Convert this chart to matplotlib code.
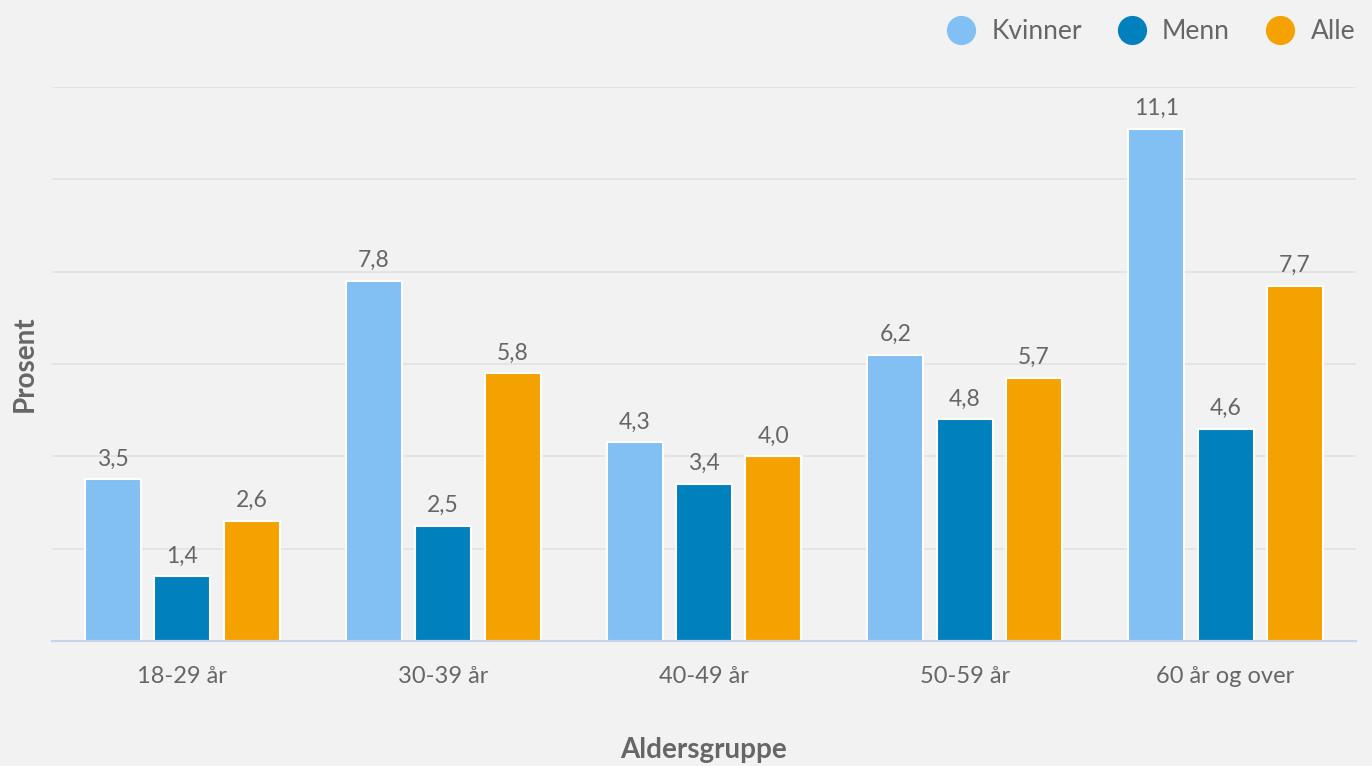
import matplotlib.pyplot as plt
import numpy as np
from matplotlib.lines import Line2D

plt.rcParams['font.family'] = ['Lato', 'DejaVu Sans']

groups = ['18-29 år', '30-39 år', '40-49 år', '50-59 år', '60 år og over']
kvinner = [3.5, 7.8, 4.3, 6.2, 11.1]
menn = [1.4, 2.5, 3.4, 4.8, 4.6]
alle = [2.6, 5.8, 4.0, 5.7, 7.7]
series = ['Kvinner', 'Menn', 'Alle']
colors = ['#82bff3', '#0080bc', '#f5a200']

bg = '#f2f2f2'
txt = '#666666'

fig = plt.figure(figsize=(13.72, 7.66), dpi=100, facecolor=bg)
ax = fig.add_axes([0.0379, 0.1632, 0.9504, 0.7232])
ax.set_facecolor(bg)

x = np.arange(len(groups))
w = 0.215
step = 0.266
for i, (name, vals, c) in enumerate(zip(series, [kvinner, menn, alle], colors)):
    pos = x + (i - 1) * step
    ax.bar(pos, vals, width=w, color=c, edgecolor='white', linewidth=1.5,
           label=name, zorder=3)
    for xi, v in zip(pos, vals):
        ax.annotate(f'{v:.1f}'.replace('.', ','), (xi, v), xytext=(0, 7),
                    textcoords='offset points', ha='center', va='bottom',
                    fontsize=16.5, color=txt)

ax.set_xlim(-0.5, len(groups) - 0.5)
ax.set_ylim(0, 12)
ax.set_yticks(np.arange(0, 13, 2))
ax.yaxis.grid(True, color='#e2e2e2', linewidth=1.2, zorder=0)
ax.tick_params(axis='y', left=False, labelleft=False)
ax.set_xticks(x)
ax.set_xticklabels(groups, fontsize=17, color=txt)
ax.tick_params(axis='x', length=0, pad=18)
for s in ['top', 'right', 'left']:
    ax.spines[s].set_visible(False)
ax.spines['bottom'].set_color('#c6d3ea')
ax.spines['bottom'].set_linewidth(1.5)
ax.spines['bottom'].set_zorder(4)

ax.set_xlabel('Aldersgruppe', fontsize=20, fontweight='bold', color=txt, labelpad=36)
ax.set_ylabel('Prosent', fontsize=20, fontweight='bold', color=txt, labelpad=10)

handles = [Line2D([], [], marker='o', linestyle='', markersize=20, color=c) for c in colors]
fig.legend(handles, series, loc='upper right', bbox_to_anchor=(1.005, 1.006), ncol=3,
           frameon=False, fontsize=19, labelcolor=txt, handlelength=1.0,
           columnspacing=1.4, handletextpad=0.65)

fig.savefig('out.png', dpi=100, facecolor=bg)
